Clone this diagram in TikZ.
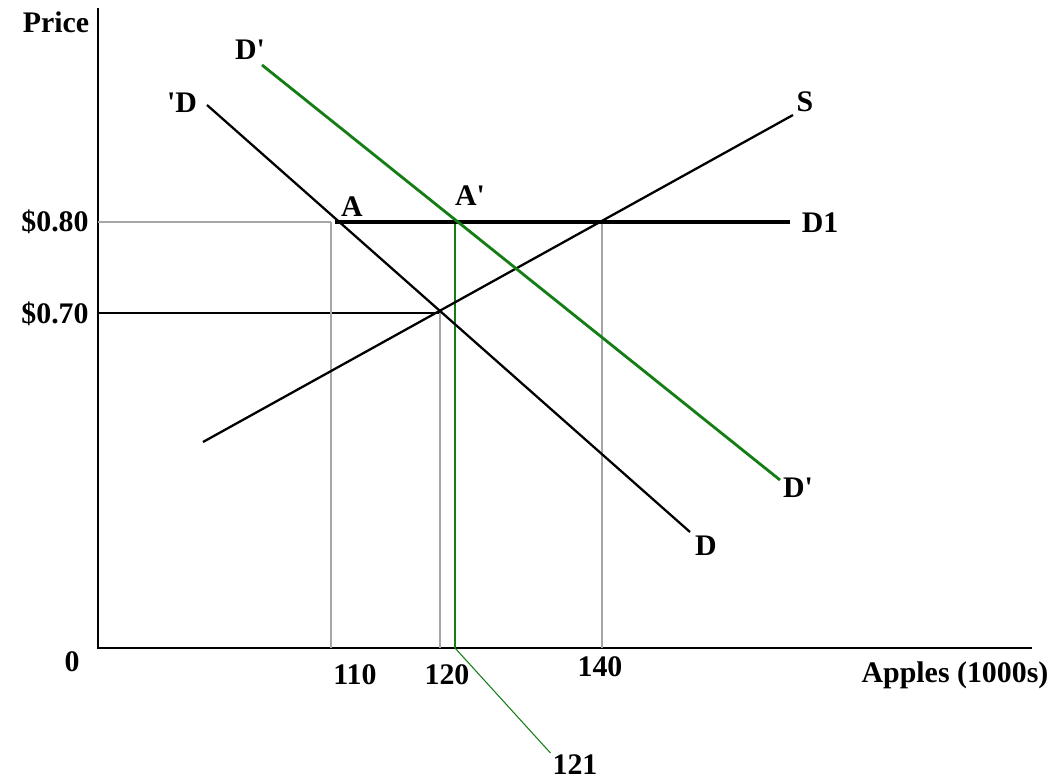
\documentclass[tikz,border=0pt]{standalone}
\usepackage{fontspec}
\setmainfont{Liberation Serif}
\usetikzlibrary{calc}
\definecolor{shiftgreen}{RGB}{20,125,20}

\begin{document}
\begin{tikzpicture}[
    x=0.02cm, y=-0.02cm,
    axis/.style={line width=1.1pt},
    guide/.style={gray!70, line width=0.6pt},
    curve/.style={line width=1.3pt},
    shiftcurve/.style={shiftgreen, line width=1.6pt},
    labeltext/.style={font=\fontsize{17}{19}\selectfont\bfseries, inner sep=1pt}
]
\useasboundingbox (0,0) rectangle (1058,781);
% axes
\coordinate (O) at (98,648);
\coordinate (Ytop) at (98,8);
\coordinate (Xend) at (1032,648);
\draw[axis] (Ytop) -- (O) -- (Xend);
% price levels and quantities
\coordinate (P80) at (98,222);
\coordinate (P70) at (98,313);
\coordinate (A) at (331,222);
\coordinate (Ap) at (455,222);
\coordinate (E) at (440,313);
\coordinate (F) at (602,222);
\coordinate (Q110) at (331,648);
\coordinate (Q120) at (440,648);
\coordinate (Q121) at (455,648);
\coordinate (Q140) at (602,648);
\coordinate (D1start) at (335,222);
\coordinate (D1end) at (790,222);
\draw[guide] (P80) -- (A);
\draw[line width=0.7pt] (P70) -- (E);
\draw[guide] (A) -- (Q110);
\draw[guide] (E) -- (Q120);
\draw[guide] (F) -- (Q140);
\draw[shiftgreen, line width=0.9pt] (Ap) -- (Q121);
\draw[line width=2.1pt] (D1start) -- (D1end);
% curves
\coordinate (Dtop) at (207,105);
\coordinate (Dbot) at (690,532);
\coordinate (Dptop) at (262,65);
\coordinate (Dpbot) at (780,480);
\coordinate (Sbot) at (203,442);
\coordinate (Stop) at (793,115);
\draw[curve] (Dtop) -- (Dbot);
\draw[curve] (Sbot) -- (Stop);
\draw[shiftcurve] (Dptop) -- (Dpbot);
% labels
\node[labeltext] (price) at (56,22) {Price};
\node[labeltext] (l80) at (55,222) {\$0.80};
\node[labeltext] (l70) at (55,314) {\$0.70};
\node[labeltext] (zero) at (72,662) {0};
\node[labeltext] (l110) at (355,675) {110};
\node[labeltext] (l120) at (447,675) {120};
\node[labeltext] (l140) at (600,667) {140};
\node[labeltext] (apples) at (955,675) {Apples (1000s)};
\node[labeltext] (l121) at (575,765) {121};
\draw[shiftgreen, line width=0.6pt] (Q121) -- (l121.north west);
\node[labeltext] (dlab) at (182,103) {\textquotesingle D};
\node[labeltext] (dptop) at (250,50) {D\textquotesingle};
\node[labeltext] (alab) at (352,207) {A};
\node[labeltext] (aplab) at (470,196) {A\textquotesingle};
\node[labeltext] (slab) at (805,102) {S};
\node[labeltext] (d1lab) at (820,223) {D1};
\node[labeltext] (dpbot) at (798,488) {D\textquotesingle};
\node[labeltext] (dbot) at (706,546) {D};
\end{tikzpicture}
\end{document}
